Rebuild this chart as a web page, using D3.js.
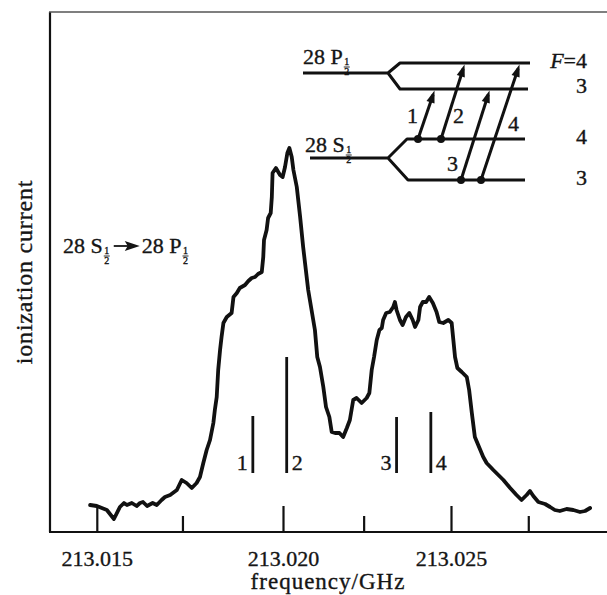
<!DOCTYPE html>
<html>
<head>
<meta charset="utf-8">
<script src="https://cdn.jsdelivr.net/npm/d3@7"></script>
<style>
  body { margin: 0; background: #fff; }
  svg { display: block; }
  text { font-family: "Liberation Serif", "Times New Roman", serif; fill: #151515; stroke: #151515; stroke-width: 0.35px; }
</style>
</head>
<body>
<div class="chart"></div>
<script>
// spectrum (frequency in GHz, current in arbitrary units)
const freqs = [213.01482, 213.01500, 213.01527, 213.01546, 213.01562, 213.01573, 213.01581, 213.01594, 213.01607, 213.01616,
  213.01624, 213.01635, 213.01650, 213.01661, 213.01674, 213.01683, 213.01697, 213.01715, 213.01728, 213.01741,
  213.01755, 213.01768, 213.01777, 213.01786, 213.01795, 213.01804, 213.01813, 213.01817, 213.01822, 213.01826,
  213.01831, 213.01835, 213.01840, 213.01849, 213.01862, 213.01867, 213.01876, 213.01884, 213.01898, 213.01907,
  213.01916, 213.01925, 213.01933, 213.01943, 213.01947, 213.01949, 213.01956, 213.01960, 213.01967, 213.01970,
  213.01972, 213.01981, 213.01992, 213.01999, 213.02006, 213.02013, 213.02019, 213.02026, 213.02031, 213.02041,
  213.02051, 213.02060, 213.02068, 213.02075, 213.02080, 213.02095, 213.02102, 213.02110, 213.02120, 213.02128,
  213.02138, 213.02145, 213.02155, 213.02168, 213.02179, 213.02190, 213.02199, 213.02209, 213.02219, 213.02234,
  213.02249, 213.02257, 213.02264, 213.02271, 213.02279, 213.02287, 213.02294, 213.02298, 213.02307, 213.02318,
  213.02328, 213.02333, 213.02338, 213.02348, 213.02356, 213.02366, 213.02376, 213.02386, 213.02393, 213.02403,
  213.02408, 213.02416, 213.02426, 213.02435, 213.02446, 213.02457, 213.02465, 213.02477, 213.02492, 213.02502,
  213.02507, 213.02512, 213.02519, 213.02532, 213.02547, 213.02554, 213.02562, 213.02571, 213.02581, 213.02596,
  213.02606, 213.02626, 213.02656, 213.02676, 213.02695, 213.02710, 213.02725, 213.02735, 213.02745, 213.02760,
  213.02780, 213.02795, 213.02809, 213.02824, 213.02844, 213.02864, 213.02884, 213.02899, 213.02914];
const current = [27, 26, 22, 13, 25, 29, 27, 29, 26, 29,
  30, 26, 29, 27, 32, 35, 37, 42, 52, 49,
  44, 49, 55, 69, 82, 92, 109, 122, 135, 162,
  182, 195, 209, 215, 219, 235, 239, 244, 247, 251,
  254, 255, 258, 260, 275, 292, 302, 314, 319, 335,
  359, 364, 357, 355, 365, 379, 384, 375, 362, 345,
  315, 285, 262, 242, 232, 202, 175, 165, 145, 125,
  115, 100, 99, 99, 95, 104, 112, 132, 134, 129,
  134, 139, 162, 175, 192, 202, 204, 212, 219, 220,
  225, 230, 222, 212, 207, 215, 219, 212, 205, 212,
  225, 230, 230, 235, 229, 220, 210, 209, 212, 209,
  192, 175, 164, 160, 155, 142, 119, 95, 87, 75,
  69, 62, 52, 44, 37, 32, 37, 41, 36, 30,
  28, 25, 22, 21, 23, 22, 20, 21, 24];

// hyperfine components (stick spectrum)
const lineFreqs = [213.01919, 213.02011, 213.02338, 213.02440];
const lineTops = [116, 175, 115, 120];
const lineBase = 59;
const lineLabels = ['1', '2', '3', '4'];
const lineLabelSide = [-1, 1, -1, 1];

const majorTicks = [213.015, 213.020, 213.025];
const minorTicks = [213.0173, 213.0224, 213.0273];

const width = 607, height = 595;

const svg = d3.select('.chart').append('svg')
    .attr('width', width)
    .attr('height', height);

// the printed axis is not quite even, so the scale is piecewise
const x = d3.scaleLinear()
    .domain([213.010, 213.015, 213.020, 213.025, 213.030])
    .range([-89.4, 96.8, 283, 451, 619]);
const y = d3.scaleLinear()
    .domain([0, 520])
    .range([532, 12]);

// frame
svg.append('line')
    .attr('x1', 50).attr('x2', 50).attr('y1', y(520)).attr('y2', y(0))
    .attr('stroke', '#111').attr('stroke-width', 2.2);
svg.append('line')
    .attr('x1', 49).attr('x2', width).attr('y1', y(0)).attr('y2', y(0))
    .attr('stroke', '#111').attr('stroke-width', 2.2);
svg.append('line')
    .attr('x1', 49).attr('x2', width).attr('y1', y(520)).attr('y2', y(520))
    .attr('stroke', '#555').attr('stroke-width', 1.6);

// ticks point up into the plot, labels below
const xAxis = d3.axisBottom(x)
    .tickValues(majorTicks)
    .tickSize(-26)
    .tickPadding(18)
    .tickFormat(d3.format('.3f'));
const gx = svg.append('g')
    .attr('transform', `translate(0, ${y(0)})`)
    .call(xAxis);
gx.select('.domain').remove();
gx.selectAll('line').attr('stroke', '#111').attr('stroke-width', 2.2);
gx.selectAll('text')
    .attr('font-family', '"Liberation Serif", serif')
    .attr('font-size', 22)
    .attr('fill', '#151515');

const minorAxis = d3.axisBottom(x)
    .tickValues(minorTicks)
    .tickSize(-16)
    .tickFormat('');
const gm = svg.append('g')
    .attr('transform', `translate(0, ${y(0)})`)
    .call(minorAxis);
gm.select('.domain').remove();
gm.selectAll('line').attr('stroke', '#111').attr('stroke-width', 2.2);

// axis titles
svg.append('text')
    .attr('x', 328)
    .attr('y', 589)
    .attr('text-anchor', 'middle')
    .attr('font-size', 23)
    .attr('letter-spacing', 1)
    .text('frequency/GHz');

svg.append('text')
    .attr('transform', 'translate(32, 272) rotate(-90)')
    .attr('text-anchor', 'middle')
    .attr('font-size', 24)
    .attr('letter-spacing', 0.8)
    .text('ionization current');

// measured curve
const line = d3.line()
    .x(d => x(d[0]))
    .y(d => y(d[1]));

svg.append('path')
    .datum(d3.zip(freqs, current))
    .attr('d', line)
    .attr('fill', 'none')
    .attr('stroke', '#111')
    .attr('stroke-width', 3.8)
    .attr('stroke-linejoin', 'round')
    .attr('stroke-linecap', 'round');

// sticks
const sticks = svg.append('g');
sticks.selectAll('line')
    .data(lineFreqs)
    .enter()
    .append('line')
    .attr('x1', d => x(d))
    .attr('x2', d => x(d))
    .attr('y1', y(lineBase))
    .attr('y2', (d, i) => y(lineTops[i]))
    .attr('stroke', '#111')
    .attr('stroke-width', 2.8);
sticks.selectAll('text')
    .data(lineFreqs)
    .enter()
    .append('text')
    .attr('x', (d, i) => x(d) + lineLabelSide[i] * 5)
    .attr('y', y(lineBase) - 3)
    .attr('text-anchor', (d, i) => lineLabelSide[i] < 0 ? 'end' : 'start')
    .attr('font-size', 22)
    .text((d, i) => lineLabels[i]);

// small stacked 1/2 after a term symbol
function half(g, x0, y0) {
    g.append('text').attr('x', x0).attr('y', y0 + 1)
        .attr('text-anchor', 'middle').attr('font-size', 10).text('1');
    g.append('line').attr('x1', x0 - 3).attr('x2', x0 + 3)
        .attr('y1', y0 + 3).attr('y2', y0 + 3)
        .attr('stroke', '#151515').attr('stroke-width', 0.9);
    g.append('text').attr('x', x0).attr('y', y0 + 11)
        .attr('text-anchor', 'middle').attr('font-size', 10).text('2');
}

function term(g, x0, y0, label) {
    const t = g.append('text').attr('x', x0).attr('y', y0)
        .attr('font-size', 22).text(label);
    const w = t.node().getComputedTextLength();
    half(g, x0 + w + 4, y0);
    return x0 + w + 8;
}

// transition label on the left
const note = svg.append('g');
let nx = term(note, 63, 253, '28 S');
note.append('line')
    .attr('x1', nx + 3).attr('x2', nx + 18)
    .attr('y1', 246).attr('y2', 246)
    .attr('stroke', '#151515').attr('stroke-width', 1.8);
note.append('path')
    .attr('d', `M${nx + 29},246 L${nx + 14},241 L${nx + 17},246 L${nx + 14},251 Z`)
    .attr('fill', '#151515');
term(note, nx + 31, 253, '28 P');

// level diagram, top right
const diag = svg.append('g')
    .attr('fill', 'none')
    .attr('stroke', '#111')
    .attr('stroke-width', 3);

const levels = [
    { stem: [303, 388, 73], upper: [400, 63, 530], lower: [400, 89, 528] },
    { stem: [310, 388, 158], upper: [407, 139, 525], lower: [408, 180, 525] }
];
levels.forEach(l => {
    diag.append('path')
        .attr('d', `M${l.stem[0]},${l.stem[2]} L${l.stem[1]},${l.stem[2]}`
            + ` M${l.upper[2]},${l.upper[1]} L${l.upper[0]},${l.upper[1]} L${l.stem[1]},${l.stem[2]}`
            + ` L${l.lower[0]},${l.lower[1]} L${l.lower[2]},${l.lower[1]}`)
        .attr('stroke-linejoin', 'round');
});

const arrows = [
    { from: [418, 139], to: [435, 89], label: '1', lx: 418, ly: 123, anchor: 'end' },
    { from: [441, 139], to: [465, 63], label: '2', lx: 453, ly: 123, anchor: 'start' },
    { from: [461, 180], to: [490, 89], label: '3', lx: 458, ly: 171, anchor: 'end' },
    { from: [481, 180], to: [520, 63], label: '4', lx: 508, ly: 131, anchor: 'start' }
];
arrows.forEach(a => {
    const dx = a.to[0] - a.from[0], dy = a.to[1] - a.from[1];
    const len = Math.hypot(dx, dy);
    const ux = dx / len, uy = dy / len;
    diag.append('line')
        .attr('x1', a.from[0]).attr('y1', a.from[1])
        .attr('x2', a.to[0] - ux * 6).attr('y2', a.to[1] - uy * 6);
    const bx = a.to[0] - ux * 14, by = a.to[1] - uy * 14;
    svg.append('path')
        .attr('d', `M${a.to[0] - ux * 1.5},${a.to[1] - uy * 1.5} L${bx - uy * 4.2},${by + ux * 4.2} L${bx + uy * 4.2},${by - ux * 4.2} Z`)
        .attr('fill', '#111');
    svg.append('circle')
        .attr('cx', a.from[0]).attr('cy', a.from[1]).attr('r', 4)
        .attr('fill', '#111');
    svg.append('text')
        .attr('x', a.lx).attr('y', a.ly)
        .attr('text-anchor', a.anchor)
        .attr('font-size', 22)
        .text(a.label);
});

term(svg, 303, 64, '28 P');
term(svg, 305, 152, '28 S');

const fText = svg.append('text')
    .attr('x', 587).attr('y', 68)
    .attr('text-anchor', 'end')
    .attr('font-size', 22);
fText.append('tspan').attr('font-style', 'italic').text('F');
fText.append('tspan').text('=4');

[['3', 93], ['4', 144], ['3', 185]].forEach(d => {
    svg.append('text')
        .attr('x', 587).attr('y', d[1])
        .attr('text-anchor', 'end')
        .attr('font-size', 22)
        .text(d[0]);
});
</script>
</body>
</html>
